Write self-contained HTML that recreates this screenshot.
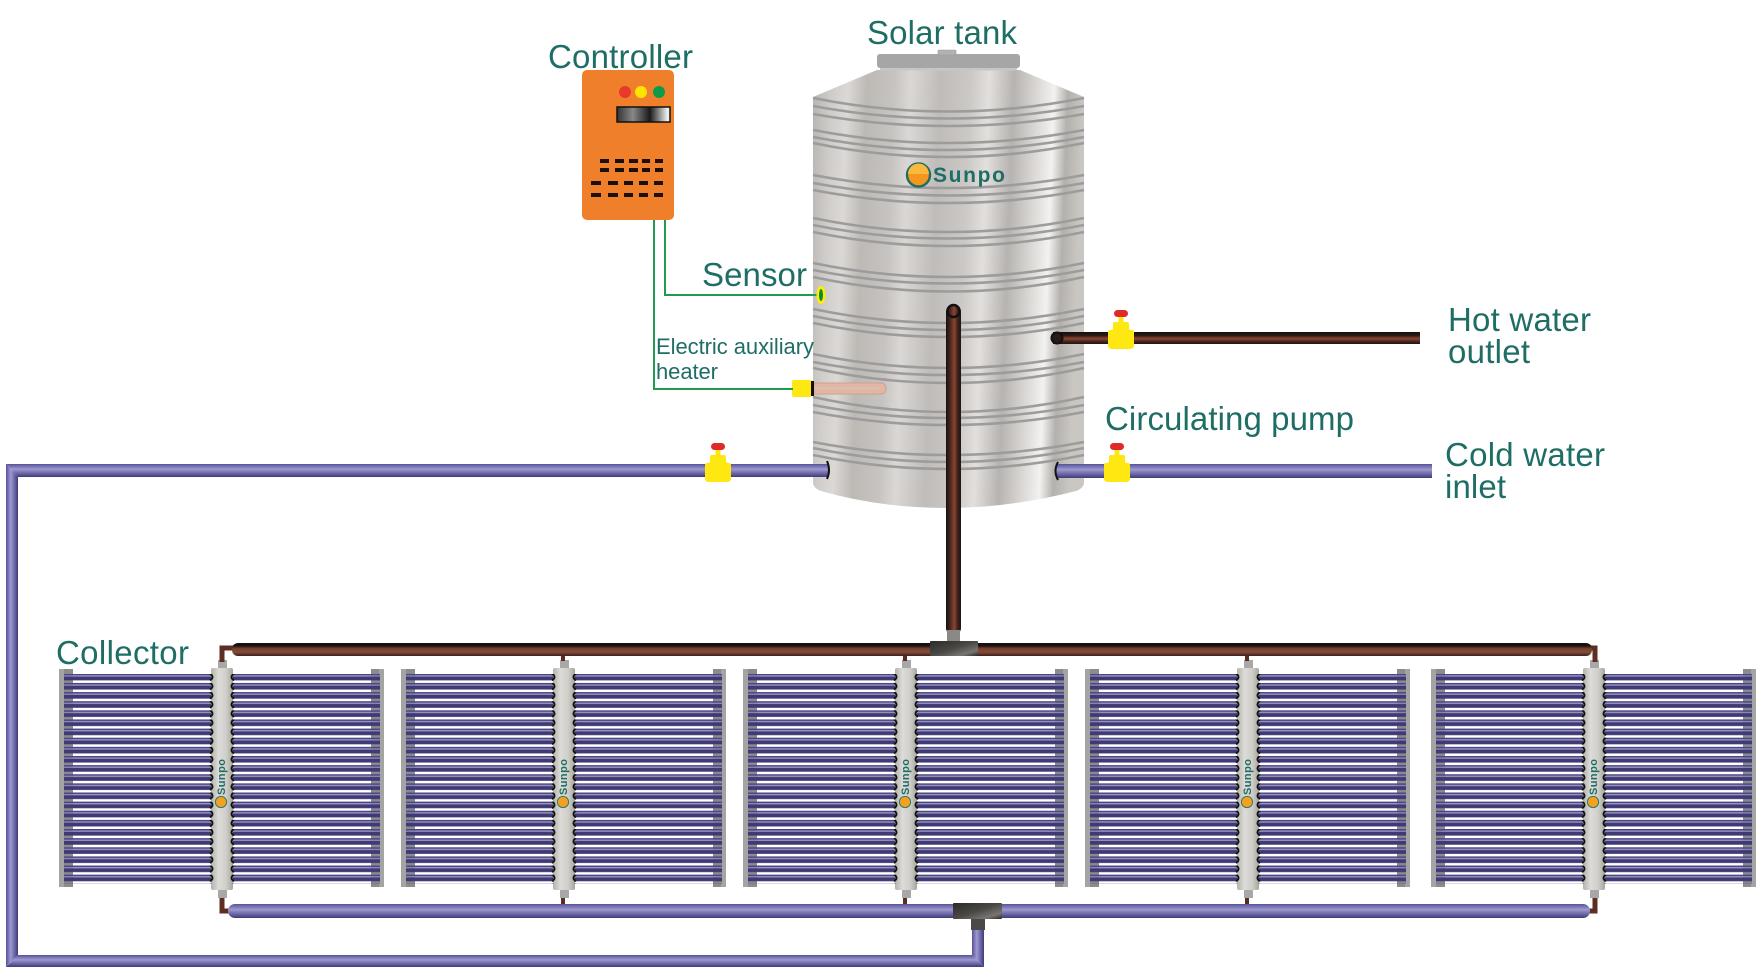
<!DOCTYPE html>
<html><head><meta charset="utf-8">
<style>html,body{margin:0;padding:0;background:#fff}svg{display:block}text{font-family:"Liberation Sans",sans-serif;fill:#1f6e66}</style>
</head><body>
<svg xmlns="http://www.w3.org/2000/svg" width="1756" height="968" viewBox="0 0 1756 968">
<defs>
<linearGradient id="tank" x1="0" y1="0" x2="1" y2=".06">
<stop offset="0" stop-color="#b7b4b0"/><stop offset=".07" stop-color="#cfccc9"/><stop offset=".13" stop-color="#dbd8d5"/><stop offset=".2" stop-color="#bdbab6"/><stop offset=".3" stop-color="#c6c3c0"/><stop offset=".36" stop-color="#dad7d4"/><stop offset=".47" stop-color="#bfbcb9"/><stop offset=".58" stop-color="#cbc8c5"/><stop offset=".65" stop-color="#e2dfdc"/><stop offset=".74" stop-color="#b6b3b0"/><stop offset=".82" stop-color="#d8d5d2"/><stop offset=".89" stop-color="#f3f2f0"/><stop offset=".94" stop-color="#b4b1ad"/><stop offset="1" stop-color="#cac7c3"/>
</linearGradient>
<linearGradient id="pu" x1="0" y1="0" x2="0" y2="1"><stop offset="0" stop-color="#57529a"/><stop offset=".4" stop-color="#9e99cf"/><stop offset=".6" stop-color="#7d78b6"/><stop offset="1" stop-color="#3f3a78"/></linearGradient>
<linearGradient id="puv" x1="0" y1="0" x2="1" y2="0"><stop offset="0" stop-color="#57529a"/><stop offset=".4" stop-color="#9e99cf"/><stop offset=".6" stop-color="#7d78b6"/><stop offset="1" stop-color="#3f3a78"/></linearGradient>
<linearGradient id="br" x1="0" y1="0" x2="0" y2="1"><stop offset="0" stop-color="#111"/><stop offset=".3" stop-color="#2e1a15"/><stop offset=".55" stop-color="#8e4632"/><stop offset=".8" stop-color="#43241d"/><stop offset="1" stop-color="#1e1412"/></linearGradient>
<linearGradient id="brm" x1="0" y1="0" x2="0" y2="1"><stop offset="0" stop-color="#111"/><stop offset=".22" stop-color="#1c1210"/><stop offset=".42" stop-color="#74402f"/><stop offset=".7" stop-color="#864a38"/><stop offset="1" stop-color="#3a221c"/></linearGradient>
<linearGradient id="brv" x1="0" y1="0" x2="1" y2="0"><stop offset="0" stop-color="#151010"/><stop offset=".3" stop-color="#4a2a20"/><stop offset=".55" stop-color="#8a4431"/><stop offset=".8" stop-color="#3a201a"/><stop offset="1" stop-color="#1e1412"/></linearGradient>
<linearGradient id="man" x1="0" y1="0" x2="1" y2="0"><stop offset="0" stop-color="#b4b2ad"/><stop offset=".35" stop-color="#dedcd8"/><stop offset=".7" stop-color="#cfcdc8"/><stop offset="1" stop-color="#a6a49f"/></linearGradient>
<linearGradient id="tee" x1="0" y1="0" x2="1" y2="1"><stop offset="0" stop-color="#2b2a28"/><stop offset=".5" stop-color="#4a4945"/><stop offset=".8" stop-color="#777672"/><stop offset="1" stop-color="#2a2927"/></linearGradient>
<linearGradient id="disp" x1="0" y1="0" x2="1" y2="0"><stop offset="0" stop-color="#333"/><stop offset=".3" stop-color="#888"/><stop offset=".62" stop-color="#1a1a1a"/><stop offset=".95" stop-color="#eee"/></linearGradient>
<pattern id="tube" patternUnits="userSpaceOnUse" x="0" y="673.8" width="400" height="9.13">
<rect width="400" height="9.13" fill="#fff"/><rect width="400" height="1.6" y="0" fill="#4a4584"/><rect width="400" height="1.2" y="1.6" fill="#8f8bbf"/><rect width="400" height="3.8" y="2.8" fill="#3f3a74"/>
</pattern>
<pattern id="teeth" patternUnits="userSpaceOnUse" x="0" y="673.8" width="20" height="9.13">
<rect width="20" height="9.13" fill="#8a8a8a"/><rect width="20" height="1.6" y="0" fill="#4a4584"/><rect width="20" height="1.2" y="1.6" fill="#8f8bbf"/><rect width="20" height="3.8" y="2.8" fill="#3f3a74"/>
</pattern>
<pattern id="endL" patternUnits="userSpaceOnUse" x="207" y="673.8" width="8" height="9.13">
<path d="M3 -0.2Q8 3.2 3 6.6" fill="none" stroke="#111" stroke-width="2"/>
</pattern>
<pattern id="endR" patternUnits="userSpaceOnUse" x="229" y="673.8" width="8" height="9.13">
<path d="M5 -0.2Q0 3.2 5 6.6" fill="none" stroke="#111" stroke-width="2"/>
</pattern>
<g id="col">
<rect x="59" y="669" width="14" height="218" fill="#8c8c8c"/><rect x="59" y="669" width="5" height="218" fill="#a4a4a4"/>
<rect x="371" y="669" width="13" height="218" fill="#8c8c8c"/><rect x="379" y="669" width="5" height="218" fill="#a4a4a4"/>
<rect x="64" y="674" width="9" height="210" fill="url(#teeth)"/>
<rect x="371" y="674" width="9" height="210" fill="url(#teeth)"/>
<rect x="73" y="674" width="139" height="210" fill="url(#tube)"/>
<rect x="232" y="674" width="139" height="210" fill="url(#tube)"/>
<rect x="218" y="660" width="9" height="9" fill="#a8a8a8"/><rect x="218" y="889" width="9" height="9" fill="#a8a8a8"/>
<rect x="211" y="668" width="22" height="222" rx="2" fill="url(#man)"/>
<rect x="207" y="674" width="8" height="210" fill="url(#endL)"/>
<rect x="229" y="674" width="8" height="210" fill="url(#endR)"/>
<circle cx="221" cy="802" r="5.6" fill="#f5a021" stroke="#2f7d6b" stroke-width="1"/>
</g>
<g id="valve">
<rect x="-7" y="0" width="14" height="7" rx="3.5" fill="#e02a2a"/>
<path fill="#ffe812" d="M-2.500 7H2.500V12H6Q8 12 8 14V18Q8 20 10 20H11Q13 20 13 22V35Q13 39 9 39H-9Q-13 39 -13 35V22Q-13 20 -11 20H-10Q-8 20 -8 18V14Q-8 12 -6 12H-2.500Z"/>
</g>
</defs>

<!-- tank -->
<path d="M877 70 H1020 L1084 97 V482 Q1084 488 1076 491 Q1010 508 948 508 Q880 508 821 491 Q813 488 813 482 V97Z" fill="url(#tank)"/>
<rect x="877" y="54" width="143" height="14" rx="3" fill="#a6a6a6"/><rect x="880" y="68" width="137" height="2.500" fill="#c6c6c6"/><rect x="938" y="50" width="18" height="5" rx="1" fill="#b2b2b2" stroke="#999" stroke-width=".6"/>
<path fill="none" stroke="#9c9c9c" stroke-width="2.600" d="M813 98Q948 125 1084 98M813 106Q948 131 1084 106M813 114Q948 138 1084 114M813 130Q948 156 1084 130M813 137Q948 163 1084 137M813 143Q948 171 1084 143M813 175Q948 201 1084 175M813 183Q948 208 1084 183M813 190Q948 216 1084 190M813 218Q948 246 1084 218M813 225Q948 252 1084 225M813 232Q948 260 1084 232M813 263Q948 291 1084 263M813 270Q948 297 1084 270M813 277Q948 306 1084 277M813 309Q948 337 1084 309M813 316Q948 344 1084 316M813 323Q948 351 1084 323M813 354Q948 382 1084 354M813 362Q948 388 1084 362M813 368Q948 398 1084 368M813 397Q948 427 1084 397M813 405Q948 431 1084 405M813 412Q948 438 1084 412M813 442Q948 468 1084 442M813 448Q948 476 1084 448M813 455Q948 483 1084 455"/>
<circle cx="918.500" cy="175" r="11.500" fill="#f5961f" stroke="#1f6e66" stroke-width="2.400"/><path d="M908 174A10.500 10.500 0 0 1 929 174Z" fill="#f9b93e"/>
<text x="933" y="182" font-size="21" font-weight="bold" textLength="72" lengthAdjust="spacing">Sunpo</text>

<!-- heater -->
<path d="M814 383H880Q886 383 886 388.500Q886 394 880 394H814Z" fill="#e3b6a4" stroke="#cfa08e" stroke-width="1"/>
<path d="M814 388.500H880" stroke="#d9c0b4" stroke-width="2"/>
<rect x="792" y="380" width="20" height="17" rx="2" fill="#ffe812"/><rect x="811" y="381" width="3" height="15" fill="#111"/>

<!-- wires -->
<path d="M665 219V295H817M654 219V389H793" fill="none" stroke="#1f9a4f" stroke-width="2"/>
<ellipse cx="821" cy="295" rx="4.500" ry="9" fill="#ffee00"/><ellipse cx="821" cy="295" rx="2" ry="6" fill="#0a8a3c"/>

<!-- controller -->
<rect x="582" y="70" width="92" height="150" rx="5" fill="#ef7f2a"/>
<circle cx="625" cy="92" r="6" fill="#e8392a"/><circle cx="641" cy="92" r="6" fill="#ffe400"/><circle cx="659" cy="92" r="6" fill="#0f9a48"/>
<rect x="617" y="107" width="53" height="15" fill="url(#disp)" stroke="#111" stroke-width="1.500"/>
<g fill="#1c1009">
<rect x="600" y="159" width="9" height="4"/><rect x="615" y="159" width="9" height="4"/><rect x="629" y="159" width="9" height="4"/><rect x="642" y="159" width="8" height="4"/><rect x="655" y="159" width="8" height="4"/>
<rect x="600" y="168" width="9" height="4"/><rect x="615" y="168" width="9" height="4"/><rect x="629" y="168" width="9" height="4"/><rect x="642" y="168" width="8" height="4"/><rect x="655" y="168" width="8" height="4"/>
<rect x="591" y="181" width="10" height="4"/><rect x="608" y="181" width="10" height="4"/><rect x="624" y="181" width="9" height="4"/><rect x="639" y="181" width="9" height="4"/><rect x="654" y="181" width="9" height="4"/>
<rect x="591" y="193" width="10" height="4"/><rect x="608" y="193" width="10" height="4"/><rect x="624" y="193" width="9" height="4"/><rect x="639" y="193" width="9" height="4"/><rect x="654" y="193" width="9" height="4"/>
</g>

<!-- collectors -->
<use href="#col"/><use href="#col" x="342"/><use href="#col" x="684"/><use href="#col" x="1026"/><use href="#col" x="1372"/>
<g font-size="11" font-weight="bold">
<text transform="translate(225 795) rotate(-90)" textLength="36">Sunpo</text>
<text transform="translate(567 795) rotate(-90)" textLength="36">Sunpo</text>
<text transform="translate(909 795) rotate(-90)" textLength="36">Sunpo</text>
<text transform="translate(1251 795) rotate(-90)" textLength="36">Sunpo</text>
<text transform="translate(1597 795) rotate(-90)" textLength="36">Sunpo</text>
</g>

<!-- small elbows -->
<path d="M222 662V648H234M1595 662V648H1586M222 898V911H234M1595 898V911H1586" fill="none" stroke="#5e2e22" stroke-width="5"/>
<path d="M563 656V661M905 656V661M1247 656V661M563 898V904M905 898V904M1247 898V904" stroke="#5a2c20" stroke-width="4"/>

<!-- collector manifolds -->
<rect x="232" y="643" width="1360" height="13" rx="6" fill="url(#brm)"/>
<rect x="228" y="904" width="1362" height="14" rx="7" fill="url(#pu)"/>
<!-- tees -->
<rect x="946" y="305" width="15" height="330" rx="7" fill="url(#brv)"/>
<circle cx="953.500" cy="311" r="6" fill="none" stroke="#111" stroke-width="2.500"/>
<rect x="947" y="630" width="13" height="12" fill="#8a8986"/>
<rect x="930" y="641" width="48" height="15" rx="1" fill="url(#tee)"/>
<rect x="971" y="915" width="14" height="15" fill="#4a4945"/>
<rect x="953" y="903" width="49" height="16" rx="1" fill="url(#tee)"/>

<!-- left return pipe -->
<path d="M972 930H984V967L972 955Z" fill="url(#puv)"/>
<path d="M18 955H972L984 967H6Z" fill="url(#pu)"/>
<path d="M6 464L18 477V955L6 967Z" fill="url(#puv)"/>
<path d="M6 464H828V477H18Z" fill="url(#pu)"/>
<path d="M827 461Q831 470 827 479" fill="none" stroke="#111" stroke-width="2"/>

<!-- cold inlet / hot outlet -->
<rect x="1056" y="464" width="376" height="14" fill="url(#pu)"/>
<path d="M1058 462Q1053 471 1058 480" fill="none" stroke="#111" stroke-width="2"/>
<rect x="1053" y="332" width="367" height="12" fill="url(#br)"/>
<circle cx="1057" cy="338" r="5.500" fill="#2a1a16" stroke="#111" stroke-width="2"/>

<!-- valves -->
<use href="#valve" x="718" y="443"/>
<use href="#valve" x="1117" y="443"/>
<use href="#valve" x="1121" y="310"/>

<!-- labels -->
<g font-size="33">
<text x="867" y="44" textLength="150">Solar tank</text>
<text x="548" y="68" textLength="145">Controller</text>
<text x="702" y="286" textLength="105">Sensor</text>
<text x="1105" y="430" textLength="249">Circulating pump</text>
<text x="1448" y="331" textLength="143">Hot water</text>
<text x="1448" y="363" textLength="82">outlet</text>
<text x="1445" y="466" textLength="160">Cold water</text>
<text x="1445" y="498" textLength="61">inlet</text>
<text x="56" y="664" textLength="133">Collector</text>
</g>
<g font-size="22">
<text x="656" y="354" textLength="158">Electric auxiliary</text>
<text x="656" y="379" textLength="62">heater</text>
</g>
</svg>
</body></html>
